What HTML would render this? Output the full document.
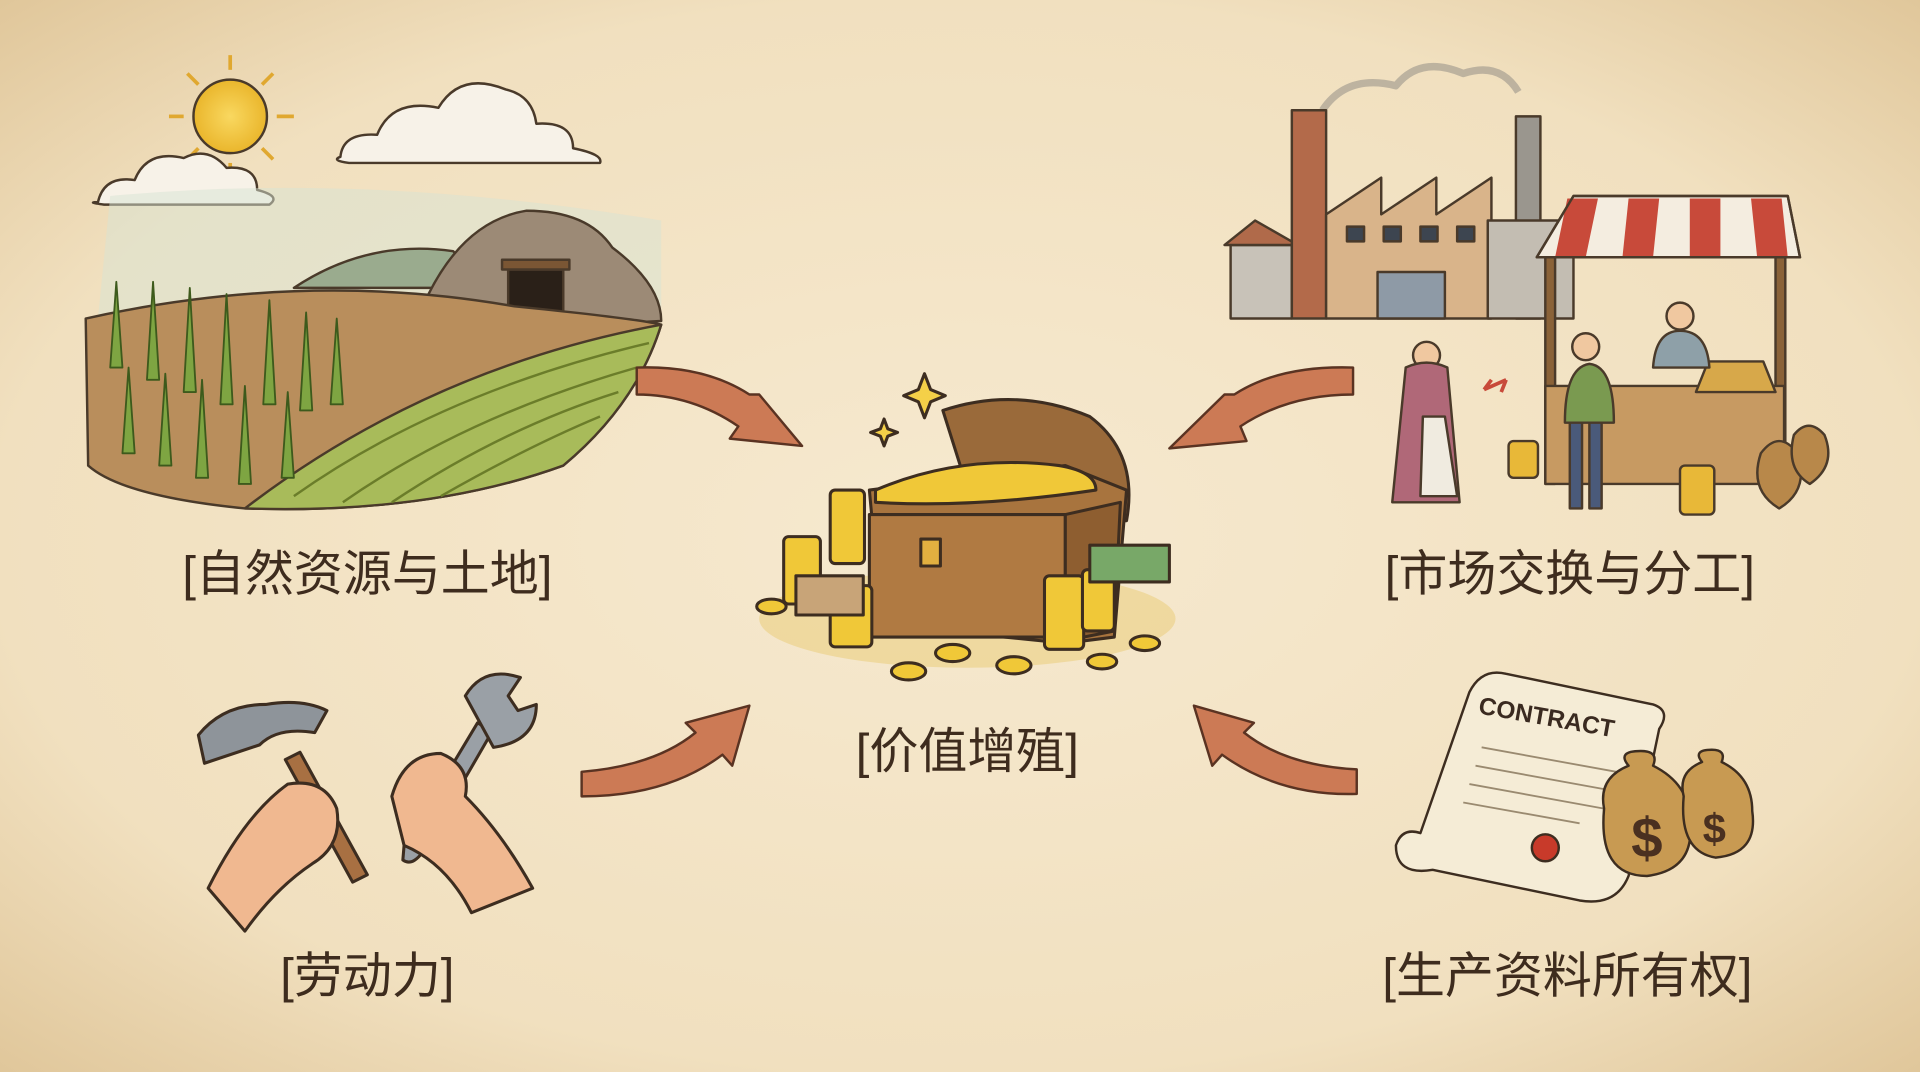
<!DOCTYPE html>
<html><head><meta charset="utf-8"><style>
html,body{margin:0;padding:0;width:1920px;height:1072px;overflow:hidden;background:#f3e6cc}
svg{display:block}
text{font-family:"Liberation Sans","Noto Sans CJK SC",sans-serif;fill:#3e2c1e;font-weight:400}
</style></head><body>
<svg width="1920" height="1072" viewBox="0 0 1568 875" preserveAspectRatio="none" xmlns="http://www.w3.org/2000/svg">
<defs>
<radialGradient id="bg" cx="50%" cy="50%" r="72%">
<stop offset="0" stop-color="#f6e9cf"/><stop offset="0.7" stop-color="#f1e0bf"/><stop offset="1" stop-color="#dfc598"/>
</radialGradient>
<radialGradient id="sun"><stop offset="0" stop-color="#f9d860"/><stop offset="1" stop-color="#eab62c"/></radialGradient>
</defs>
<rect width="1568" height="875" fill="url(#bg)"/>

<!-- ===== Farm scene ===== -->
<g stroke="#4a3a2a" stroke-width="2" stroke-linejoin="round">
<circle cx="188" cy="95" r="30" fill="url(#sun)"/>
<g stroke="#e0a830" stroke-width="3"><line x1="188" y1="45" x2="188" y2="57"/><line x1="188" y1="133" x2="188" y2="145"/><line x1="138" y1="95" x2="150" y2="95"/><line x1="226" y1="95" x2="240" y2="95"/><line x1="153" y1="60" x2="162" y2="69"/><line x1="214" y1="121" x2="223" y2="130"/><line x1="223" y1="60" x2="214" y2="69"/><line x1="153" y1="130" x2="162" y2="121"/></g>
<path d="M80 165 q5-22 30-18 q10-25 40-18 q20-10 35 8 q25-2 25 18 q20 5 10 12 h-135 q-15-2-5-2z" fill="#f7f2e8"/>
<path d="M278 128 q2-20 30-18 q12-30 50-22 q18-30 55-15 q22 5 25 28 q30-2 30 20 q25 5 22 12 h-205 q-15-2-7-5z" fill="#f7f2e8"/>
<path d="M90 160 Q300 140 540 180 L540 260 L80 260Z" fill="#d8e4d4" stroke="none" opacity="0.5"/>
<path d="M240 235 q60-40 130-30 l30 30z" fill="#9aab8e"/>
<path d="M350 240 q30-60 80-68 q50 0 70 30 q40 30 40 60 l-190 10z" fill="#9c8a76"/>
<path d="M415 220 h45 v45 h-45z" fill="#2a2018"/>
<path d="M410 212 h55 v8 h-55z" fill="#7a5634"/>
<path d="M70 260 Q250 220 420 250 Q520 260 540 265 Q520 330 460 380 Q350 420 200 415 Q100 405 72 380Z" fill="#b98e5c"/>
<path d="M200 415 Q350 300 540 265 Q520 330 460 380 Q350 420 200 415Z" fill="#a8bb5a"/>
<g fill="none" stroke="#6b7d2a" stroke-width="2"><path d="M240 405 Q360 320 530 280"/><path d="M280 410 Q380 340 520 300"/><path d="M320 410 Q410 350 505 320"/><path d="M360 405 Q430 365 490 340"/></g>
<g fill="#7ea542" stroke="#3d5a1c" stroke-width="1.5">
<path d="M90 300 l5-70 l5 70z"/><path d="M120 310 l5-80 l5 80z"/><path d="M150 320 l5-85 l5 85z"/><path d="M180 330 l5-90 l5 90z"/><path d="M215 330 l5-85 l5 85z"/><path d="M245 335 l5-80 l5 80z"/><path d="M270 330 l5-70 l5 70z"/>
<path d="M100 370 l5-70 l5 70z"/><path d="M130 380 l5-75 l5 75z"/><path d="M160 390 l5-80 l5 80z"/><path d="M195 395 l5-80 l5 80z"/><path d="M230 390 l5-70 l5 70z"/>
</g>
</g>

<!-- ===== Factory + market ===== -->
<g stroke="#4a3a2a" stroke-width="2" stroke-linejoin="round">
<path d="M1080 90 q20-30 60-20 q20-25 55-10 q30-10 45 15" fill="none" stroke="#8a8580" stroke-width="6" opacity="0.5"/>
<rect x="1005" y="200" width="50" height="60" fill="#c8c2b8"/><path d="M1000 200 l25-20 l35 20z" fill="#b06a4a"/>
<rect x="1055" y="90" width="28" height="170" fill="#b36a4a"/>
<path d="M1083 260 V175 l45-30 v30 l45-30 v30 l45-30 v115z" fill="#d9b48a"/>
<rect x="1100" y="185" width="14" height="12" fill="#3d4550"/><rect x="1130" y="185" width="14" height="12" fill="#3d4550"/><rect x="1160" y="185" width="14" height="12" fill="#3d4550"/><rect x="1190" y="185" width="14" height="12" fill="#3d4550"/>
<rect x="1125" y="222" width="55" height="38" fill="#8e9aa6"/>
<rect x="1238" y="95" width="20" height="165" fill="#9a968e"/>
<rect x="1215" y="180" width="70" height="80" fill="#c3bdb2"/>
<path d="M1255 210 l30-50 h175 l10 50z" fill="#f4ede0"/>
<g fill="#c84a3a" stroke="none"><path d="M1280 162 h25 l-10 48 h-25z"/><path d="M1330 162 h25 l-5 48 h-25z"/><path d="M1380 162 h25 l0 48 h-25z"/><path d="M1430 162 h25 l5 48 h-25z"/></g>
<path d="M1255 210 l30-50 h175 l10 50z" fill="none"/>
<rect x="1262" y="210" width="8" height="185" fill="#8a6238"/><rect x="1450" y="210" width="8" height="185" fill="#8a6238"/>
<rect x="1262" y="315" width="195" height="80" fill="#c79a62"/>
<path d="M1385 320 l10-25 h45 l10 25z" fill="#d7a84a"/>
<circle cx="1372" cy="258" r="11" fill="#f0c8a0"/><path d="M1350 300 q2-30 22-30 q22 0 24 30z" fill="#8ea0a8"/>
<circle cx="1295" cy="283" r="11" fill="#f0c8a0"/><path d="M1278 345 q0-45 20-48 q20 2 20 48z" fill="#7a9a50"/><path d="M1282 345 v70 h10 v-70z M1298 345 v70 h10 v-70z" fill="#4a5a7a"/>
<circle cx="1165" cy="290" r="11" fill="#f0c8a0"/><path d="M1148 300 q17-8 34 0 l10 110 h-55z" fill="#b06878"/><path d="M1162 340 h18 l10 65 h-30z" fill="#f0ebe0"/>
<path d="M1212 318 l18-8 M1212 318 l6-8 M1230 310 l-4 10" stroke="#c84a3a" fill="none" stroke-width="3"/>
<g fill="#e8b838"><rect x="1232" y="360" width="24" height="30" rx="4"/><rect x="1372" y="380" width="28" height="40" rx="4"/></g>
<path d="M1438 370 q15-20 30 0 q10 30-15 45 q-25-15-15-45z" fill="#b8884a"/><path d="M1465 355 q12-15 25 0 q10 25-12 40 q-20-12-13-40z" fill="#b8884a"/>
</g>

<!-- ===== Tools ===== -->
<g stroke="#3d2d20" stroke-width="2.5" stroke-linejoin="round">
<path d="M233 620 l12-6 l55 100 l-12 6z" fill="#a87042"/>
<path d="M162 600 q20-25 55-25 q30-5 50 5 l-10 18 q-30-5-45 10 l-45 15z" fill="#8e949a"/>
<path d="M170 725 q30-60 65-85 q30-5 40 20 q5 30-20 45 q-30 20-55 55z" fill="#f0b890"/>
<path d="M330 690 l60-100 l12 7 l-58 100 q-8 10-15 5z" fill="#9aa0a6"/>
<path d="M380 568 q15-25 45-15 l-10 15 l8 12 l15 -5 q0 30-35 35z" fill="#9aa0a6"/>
<path d="M320 650 q10-35 40-35 q25 10 20 35 q30 30 55 75 l-50 20 q-20-40-55-55z" fill="#f0b890"/>
</g>

<!-- ===== Contract + bags ===== -->
<g stroke="#3d2d20" stroke-width="2" stroke-linejoin="round">
<path d="M1200 565 q10-20 30-15 l120 25 q15 5 5 20 l-25 120 q-10 25-40 20 l-120-25 q-30 5-30-20 q5-15 20-10z" fill="#f5ecd6"/>
<g stroke="#9a8a70" stroke-width="1.5"><line x1="1210" y1="610" x2="1320" y2="630"/><line x1="1205" y1="625" x2="1315" y2="645"/><line x1="1200" y1="640" x2="1310" y2="660"/><line x1="1195" y1="655" x2="1290" y2="672"/></g>
<circle cx="1262" cy="692" r="11" fill="#c83a2a"/>
<path d="M1310 660 q-5-25 20-35 q-10-12 10-12 q15 0 10 12 q30 15 30 45 q5 40-35 45 q-40 0-35-55z" fill="#c89a52"/>
<path d="M1375 650 q-5-20 15-28 q-8-10 8-10 q12 0 8 10 q25 12 25 40 q5 35-30 38 q-30-5-26-50z" fill="#c89a52"/>
</g>
<text x="1345" y="700" font-size="46" text-anchor="middle" style="fill:#4a3020;font-weight:700">$</text>
<text x="1400" y="688" font-size="34" text-anchor="middle" style="fill:#4a3020;font-weight:700">$</text>
<text x="1262" y="592" font-size="20" text-anchor="middle" transform="rotate(10 1262 592)" style="fill:#3a2a20;font-weight:700">CONTRACT</text>

<!-- ===== Treasure chest ===== -->
<g stroke="#3d2d20" stroke-width="2.5" stroke-linejoin="round">
<ellipse cx="790" cy="505" rx="170" ry="40" fill="#e8c86a" stroke="none" opacity="0.45"/>
<path d="M770 335 q60-20 120 5 q40 30 30 85 l-120 5z" fill="#9a6a3a"/>
<path d="M710 400 l160-20 l50 20 l-10 120 l-40 5 l-150-15z" fill="#a8743e"/>
<path d="M715 400 q70-30 150-20 q30 5 30 20 q-100 15-180 10z" fill="#f0c838"/>
<rect x="710" y="420" width="160" height="100" fill="#b07a42"/>
<path d="M870 420 l45-10 l-5 105 l-40 8z" fill="#8e5e30"/>
<rect x="752" y="440" width="16" height="22" fill="#e2b040"/>
<g fill="#f0c838"><rect x="678" y="400" width="28" height="60" rx="4"/><rect x="640" y="438" width="30" height="55" rx="4"/><rect x="678" y="478" width="34" height="50" rx="4"/><rect x="853" y="470" width="32" height="60" rx="4"/><rect x="884" y="465" width="26" height="50" rx="4"/></g>
<rect x="650" y="470" width="55" height="32" fill="#c8a478"/>
<rect x="890" y="445" width="65" height="30" fill="#78a868"/>
<g fill="#f0c838"><ellipse cx="742" cy="548" rx="14" ry="7"/><ellipse cx="778" cy="533" rx="14" ry="7"/><ellipse cx="828" cy="543" rx="14" ry="7"/><ellipse cx="900" cy="540" rx="12" ry="6"/><ellipse cx="630" cy="495" rx="12" ry="6"/><ellipse cx="935" cy="525" rx="12" ry="6"/></g>
<path d="M755 305 l5 13 l12 5 l-12 5 l-5 13 l-5-13 l-12-5 l12-5z" fill="#f4d048"/>
<path d="M722 342 l3 8 l8 3 l-8 3 l-3 8 l-3-8 l-8-3 l8-3z" fill="#f4d048"/>
</g>

<!-- ===== Arrows ===== -->
<g stroke="#5a3322" stroke-width="2" stroke-linejoin="round" fill="#cc7a55">
<path d="M520 300 Q575 298 612 322 L620 322 L655 364 L596 358 L603 348 Q565 322 520 322Z"/>
<path d="M1105 300 Q1045 298 1008 322 L1000 322 L955 366 L1018 360 L1013 348 Q1052 322 1105 322Z"/>
<path d="M475 630 Q535 625 568 598 L560 590 L612 576 L598 625 L590 616 Q545 650 475 650Z"/>
<path d="M1108 628 Q1050 625 1016 598 L1024 590 L975 576 L990 625 L998 616 Q1045 650 1108 648Z"/>
</g>

<!-- ===== Labels ===== -->
<text x="300" y="482" font-size="40" text-anchor="middle">[自然资源与土地]</text>
<text x="1282" y="482" font-size="40" text-anchor="middle">[市场交换与分工]</text>
<text x="790" y="627" font-size="40" text-anchor="middle">[价值增殖]</text>
<text x="300" y="810" font-size="40" text-anchor="middle">[劳动力]</text>
<text x="1280" y="810" font-size="40" text-anchor="middle">[生产资料所有权]</text>
</svg>
</body></html>
